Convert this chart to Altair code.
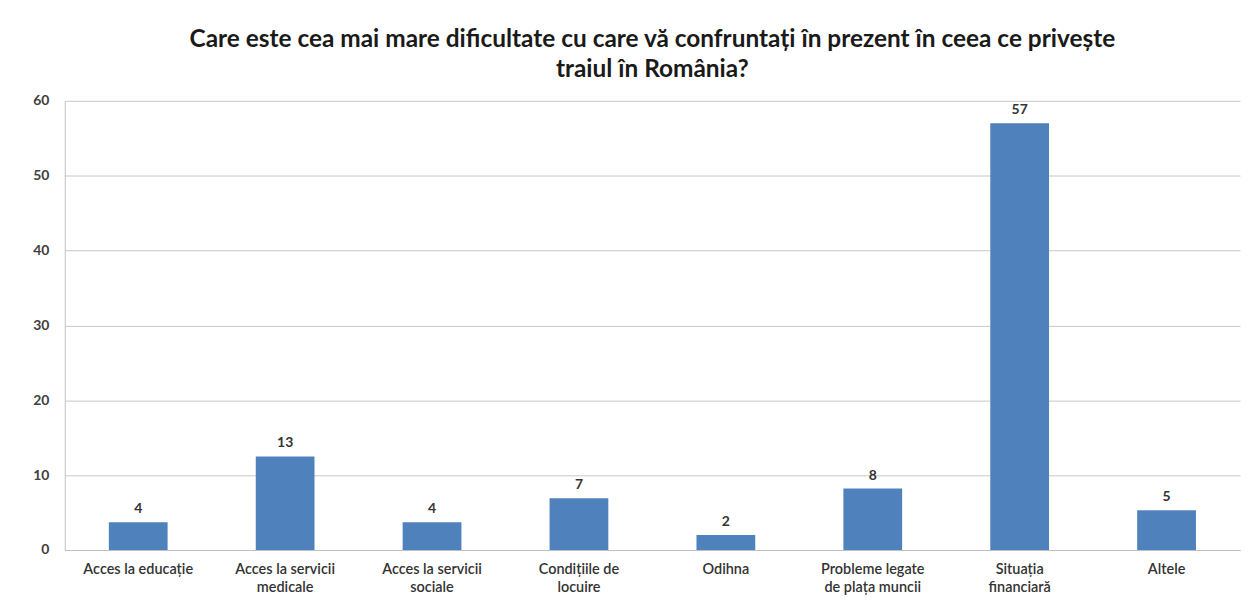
import altair as alt
import pandas as pd

categories = [
    "Acces la educație",
    "Acces la servicii medicale",
    "Acces la servicii sociale",
    "Condițiile de locuire",
    "Odihna",
    "Probleme legate de plața muncii",
    "Situația financiară",
    "Altele",
]
values = [3.7, 12.5, 3.7, 6.9, 2.0, 8.2, 57.0, 5.3]
labels = ["4", "13", "4", "7", "2", "8", "57", "5"]
label_lines = [
    ["Acces la educație"],
    ["Acces la servicii", "medicale"],
    ["Acces la servicii", "sociale"],
    ["Condițiile de", "locuire"],
    ["Odihna"],
    ["Probleme legate", "de plața muncii"],
    ["Situația", "financiară"],
    ["Altele"],
]

df = pd.DataFrame({"cat": categories, "val": values, "lab": labels})

label_expr = "{" + ",".join(
    '"%s": [%s]' % (c, ",".join('"%s"' % s for s in ls)) for c, ls in zip(categories, label_lines)
) + "}[datum.value]"

FONT = "Lato"

x = alt.X(
    "cat:N",
    sort=categories,
    title=None,
    scale=alt.Scale(paddingInner=0.6, paddingOuter=0.3),
    axis=alt.Axis(
        labelAngle=0,
        labelExpr=label_expr,
        labelFont=FONT,
        labelFontSize=14.5,
        labelFontWeight=600,
        labelColor="#333333",
        labelPadding=13,
        ticks=False,
        domainColor="#c0c0c0",
        labelLineHeight=18,
    ),
)

bars = alt.Chart(df).mark_bar(color="#4F81BD").encode(
    x=x,
    y=alt.Y(
        "val:Q",
        title=None,
        scale=alt.Scale(domain=[0, 60]),
        axis=alt.Axis(
            values=[0, 10, 20, 30, 40, 50, 60],
            labelFont=FONT,
            labelFontSize=14,
            labelFontWeight="bold",
            labelColor="#404040",
            labelPadding=16,
            ticks=False,
            domainColor="#c0c0c0",
            gridColor="#c8c8c8",
        ),
    ),
)

text = alt.Chart(df).mark_text(
    dy=-13, font=FONT, fontSize=14, fontWeight="bold", color="#333333"
).encode(x=alt.X("cat:N", sort=categories), y="val:Q", text="lab:N")

chart = (
    (bars + text)
    .properties(
        width=1180,
        height=451,
        padding={"left": 57, "top": 92, "right": 5, "bottom": 52},
        autosize=alt.AutoSizeParams(type="none"),
        title=alt.TitleParams(
            text=[
                "Care este cea mai mare dificultate cu care vă confruntați în prezent în ceea ce privește",
                "traiul în România?",
            ],
            font=FONT,
            fontSize=24.5,
            fontWeight="bold",
            color="#1a1a1a",
            anchor="middle",
            lineHeight=31,
            offset=11,
        ),
    )
    .configure_view(stroke=None)
)

chart.save("out.html", embed_options={"renderer": "svg", "actions": False})
